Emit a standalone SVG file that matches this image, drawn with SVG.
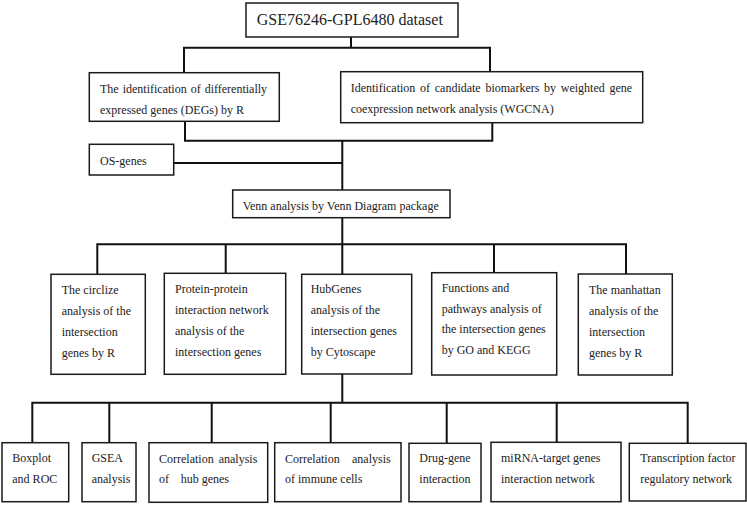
<svg xmlns="http://www.w3.org/2000/svg" width="747" height="505" viewBox="0 0 747 505">
<style>
.box{fill:#fff;stroke:#1a1a1a;stroke-width:1.5}
.ln{fill:none;stroke:#111;stroke-width:2;stroke-linecap:square}
text{font-family:"Liberation Serif","Times New Roman",serif;font-size:12px;fill:#222}
.title{font-size:16px}
</style>
<rect width="747" height="505" fill="#fff"/>
<g id="connectors">
<path class="ln" d="M351,37 V47.7 M184,47.7 H490 M184,47.7 V72.7 M490,47.7 V71.7"/>
<path class="ln" d="M185,121.3 V140.7 M492.3,122.7 V140.7 M185,140.7 H492.3 M342.3,140.7 V190 M173.7,163 H342.3"/>
<path class="ln" d="M342.3,217.7 V274.3 M97.3,244.3 H626 M97.3,244.3 V274.3 M225.7,244.3 V273.3 M494,244.3 V272.7 M626,244.3 V274"/>
<path class="ln" d="M342.3,374 V402.7 M32.3,402.7 H687.7 M32.3,402.7 V442.7 M109.3,402.7 V442.7 M211.7,402.7 V442.7 M330.7,402.7 V442.7 M446.7,402.7 V443 M556.7,402.7 V442.3 M687.7,402.7 V443"/>
</g>
<g id="dataset">
<rect class="box" x="246" y="3" width="212" height="34"/>
<text class="title" x="256.7" y="24.5">GSE76246-GPL6480 dataset</text>
</g>
<g id="degs">
<rect class="box" x="89.3" y="72.7" width="190" height="48.6"/>
<text x="100" y="93.3" style="word-spacing:1px">The identification of differentially</text>
<text x="100" y="114">expressed genes (DEGs) by R</text>
</g>
<g id="wgcna">
<rect class="box" x="340.7" y="71.7" width="302" height="51"/>
<text x="350.7" y="91.7" style="word-spacing:1.7px">Identification of candidate biomarkers by weighted gene</text>
<text x="350.7" y="113.3">coexpression network analysis (WGCNA)</text>
</g>
<g id="os-genes">
<rect class="box" x="89.3" y="144.3" width="84.4" height="30.7"/>
<text x="100" y="165">OS-genes</text>
</g>
<g id="venn">
<rect class="box" x="232.7" y="190" width="217.3" height="27.7"/>
<text x="242.7" y="210">Venn analysis by Venn Diagram package</text>
</g>
<g id="circlize">
<rect class="box" x="51" y="274.3" width="94.3" height="100"/>
<text x="61.7" y="294.3">The circlize</text>
<text x="61.7" y="315">analysis of the</text>
<text x="61.7" y="336">intersection</text>
<text x="61.7" y="356.7">genes by R</text>
</g>
<g id="ppi">
<rect class="box" x="164.3" y="273.3" width="121.4" height="101"/>
<text x="175" y="293.3">Protein-protein</text>
<text x="175" y="314">interaction network</text>
<text x="175" y="335">analysis of the</text>
<text x="175" y="355.7">intersection genes</text>
</g>
<g id="hubgenes">
<rect class="box" x="301.7" y="274.3" width="110" height="99.7"/>
<text x="310.7" y="293.3">HubGenes</text>
<text x="310.7" y="314">analysis of the</text>
<text x="310.7" y="335.3">intersection genes</text>
<text x="310.7" y="356">by Cytoscape</text>
</g>
<g id="go-kegg">
<rect class="box" x="431.7" y="272.7" width="125" height="102.3"/>
<text x="441.7" y="291.7">Functions and</text>
<text x="441.7" y="312.7">pathways analysis of</text>
<text x="441.7" y="333.3">the intersection genes</text>
<text x="441.7" y="354.3">by GO and KEGG</text>
</g>
<g id="manhattan">
<rect class="box" x="578.3" y="274" width="94" height="101"/>
<text x="589" y="294.3">The manhattan</text>
<text x="589" y="315">analysis of the</text>
<text x="589" y="336">intersection</text>
<text x="589" y="356.7">genes by R</text>
</g>
<g id="boxplot-roc">
<rect class="box" x="2" y="442.7" width="66.7" height="59"/>
<text x="12.3" y="462">Boxplot</text>
<text x="12.3" y="483">and ROC</text>
</g>
<g id="gsea">
<rect class="box" x="82" y="442.7" width="54" height="59"/>
<text x="91.7" y="462">GSEA</text>
<text x="91.7" y="483">analysis</text>
</g>
<g id="corr-hub">
<rect class="box" x="149" y="442.7" width="118.7" height="59.6"/>
<text x="159" y="462.5" style="word-spacing:2px">Correlation analysis</text>
<text x="159" y="483.3">of<tspan x="180.7">hub genes</tspan></text>
</g>
<g id="corr-immune">
<rect class="box" x="274.7" y="442.7" width="126.3" height="59"/>
<text x="285" y="462.5">Correlation<tspan x="352">analysis</tspan></text>
<text x="285" y="483.3">of immune cells</text>
</g>
<g id="drug-gene">
<rect class="box" x="409" y="443.3" width="72" height="58.4"/>
<text x="419.3" y="462">Drug-gene</text>
<text x="419.3" y="482.5">interaction</text>
</g>
<g id="mirna">
<rect class="box" x="491" y="442.3" width="130" height="59.4"/>
<text x="501" y="462">miRNA-target genes</text>
<text x="501" y="482.5">interaction network</text>
</g>
<g id="tf">
<rect class="box" x="629.3" y="443.3" width="116.7" height="57.7"/>
<text x="640.3" y="462">Transcription factor</text>
<text x="640.3" y="482.5">regulatory network</text>
</g>
</svg>
